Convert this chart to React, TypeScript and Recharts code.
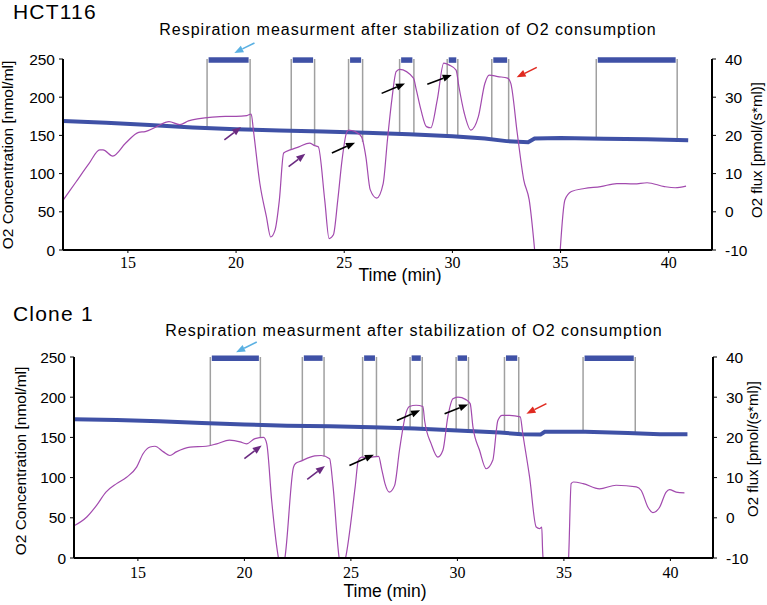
import React from "react";
import { LineChart, Line, XAxis, YAxis, ReferenceLine } from "recharts";

const TIME_TICKS = [15, 20, 25, 30, 35, 40];
const CONC_TICKS = [0, 50, 100, 150, 200, 250];
const FLUX_TICKS = [-10, 0, 10, 20, 30, 40];

type Pt = [number, number | null];
type Arrow = { from: [number, number]; to: [number, number]; color: string };
type Anchor = "conc" | "flux";

// HCT116: O2 concentration [nmol/ml] (blue, left axis)
const hctConc: Pt[] = [
  [12, 169], [14, 166.5], [16, 163.5], [18, 160.5], [20, 158], [22, 156.5], [24, 155],
  [26, 153.5], [28, 151.5], [30, 149], [31.5, 146], [32.5, 142.5], [33.5, 141],
  [33.8, 146], [35, 146.5], [37, 145.5], [39, 145], [40.9, 143.5],
];

// HCT116: O2 flux [pmol/(s*ml)] (purple, right axis)
const hctFlux: Pt[] = [
  [12, 3], [12.6, 7.8], [13.2, 12.6], [13.7, 16.2], [13.85, 16.2], [14.3, 14.6], [14.9, 18],
  [15.5, 20.8], [15.8, 21], [16.3, 22.2], [16.9, 23.6], [17.4, 22.8], [17.8, 23.8], [18.3, 24.4],
  [18.9, 24.8], [19.5, 25], [20, 25], [20.5, 25.2], [20.7, 25.6], [20.8, 21.4], [21.1, 7.4],
  [21.4, -1.2], [21.6, -6.6], [21.8, -4.8], [22, 3], [22.2, 15.4], [22.5, 16.2], [22.9, 17],
  [23.4, 18], [23.6, 17.4], [23.8, 17], [24.1, 3], [24.3, -7], [24.5, -6], [24.7, 3], [24.9, 13.6],
  [25.1, 20.6], [25.2, 21.4], [25.5, 21], [25.8, 19.6], [26, 14.4], [26.2, 5.8], [26.5, 3.6],
  [26.8, 7.4], [27, 19], [27.2, 29.3], [27.4, 36.7], [27.56, 37.3], [28.2, 35], [28.33, 32],
  [28.55, 26.6], [28.8, 22.3], [29, 22], [29.3, 29.3], [29.6, 38.9], [29.86, 38.4], [30.17, 37.1],
  [30.3, 32.8], [30.55, 25.8], [30.85, 21.4], [31.2, 24.9], [31.5, 33.6], [31.7, 35.8],
  [32.1, 35.4], [32.55, 35], [32.7, 33.6], [33, 20.5], [33.3, 8.3], [33.55, 3.1], [33.85, -13],
  [34.4, null], [34.95, -13], [35.2, 3.1], [35.5, 5.3], [36.1, 6.1], [36.85, 6.6], [37.6, 7.4],
  [38.4, 7.3], [39, 7.6], [39.8, 6.6], [40.3, 6.3], [40.8, 6.7],
];

// HCT116: measurement windows [start, end] (min) and which trace their marker lines drop to
const hctWindows: [number, number][] = [
  [18.66, 20.65], [22.55, 23.63], [25.2, 25.85], [27.56, 28.22], [29.76, 30.25], [31.82, 32.6], [36.65, 40.39],
];
const hctAnchors: Anchor[] = ["conc", "flux", "flux", "conc", "conc", "conc", "conc"];

// Clone 1: O2 concentration
const cloneConc: Pt[] = [
  [12, 172.5], [14, 171.5], [16, 170], [18, 168], [20, 166], [22, 164.5], [24, 164], [26, 162.5],
  [28, 161], [30, 158.5], [32, 156], [33, 154], [33.9, 153.5], [34.1, 157], [36, 157], [38, 155.5],
  [39.5, 154], [40.8, 154],
];

// Clone 1: O2 flux
const cloneFlux: Pt[] = [
  [12, -2], [12.6, 0.2], [13.06, 3.1], [13.5, 6.4], [14, 8.5], [14.47, 10.1], [14.94, 12.6],
  [15.25, 16], [15.57, 17.6], [15.8, 17.8], [16.2, 16.4], [16.5, 15.5], [16.8, 16.4], [17.45, 17.6],
  [18.2, 17.8], [18.7, 18.4], [19.3, 19.3], [19.8, 18.9], [20.1, 18.4], [20.5, 19.7], [20.9, 20],
  [21.05, 18.4], [21.28, 4.3], [21.6, -10], [21.75, -13], [21.9, -10], [22.3, 12.5], [22.4, 13.5],
  [22.65, 14.1], [23.3, 15.4], [23.6, 15.5], [24, 14.7], [24.15, 8.5], [24.45, -10], [24.6, -13],
  [24.75, -10], [25.2, 7.7], [25.35, 14.3], [25.5, 15.1], [25.8, 15], [26.3, 15.3], [26.45, 12],
  [26.6, 8.5], [26.8, 6.4], [27.05, 8], [27.28, 16.8], [27.6, 26.3], [27.75, 27.7], [28.06, 28],
  [28.38, 27.7], [28.46, 24.2], [28.77, 18.4], [29.08, 15.1], [29.32, 16.8], [29.55, 25.1],
  [29.79, 29.6], [30.02, 30], [30.4, 29.4], [30.6, 28.4], [30.73, 22.6], [31.04, 16.8],
  [31.35, 12.2], [31.66, 14.3], [31.9, 24.2], [32.1, 25.5], [32.45, 25.5], [32.95, 25.1],
  [33.07, 20.9], [33.39, 10.1], [33.7, -2.3], [33.86, -2.7], [33.96, -2.3], [34, -8.1], [34.1, -14],
  [34.6, null], [35.15, -14], [35.22, -10], [35.34, 8.5], [35.45, 8.9], [35.9, 8.5], [36.67, 7.2],
  [37.45, 8.1], [38.4, 7.7], [38.63, 6.8], [38.94, 2.7], [39.18, 1.3], [39.5, 2.7], [39.8, 6.4],
  [39.96, 7], [40.27, 6.4], [40.66, 6.2],
];

const cloneWindows: [number, number][] = [
  [18.4, 20.75], [22.72, 23.74], [25.55, 26.2], [27.78, 28.35], [29.94, 30.52], [32.21, 32.88], [35.9, 38.35],
];
const cloneAnchors: Anchor[] = ["flux", "flux", "flux", "conc", "conc", "conc", "conc"];

const BLUE = "#3f51a6";
const PURPLE = "#a24aae";
const GREY = "#a0a0a0";
const ARROW_PURPLE = "#6a2a80";
const ARROW_BLUE = "#5ab0e2";
const ARROW_RED = "#e02a20";
const BLACK = "#000";

// arrow annotations, in (min, nmol/ml)
const hctArrows: Arrow[] = [
  { from: [20.85, 271], to: [19.92, 258], color: ARROW_BLUE },
  { from: [19.46, 144], to: [20.23, 161], color: ARROW_PURPLE },
  { from: [22.43, 109], to: [23.2, 126], color: ARROW_PURPLE },
  { from: [24.43, 127], to: [25.5, 140.5], color: BLACK },
  { from: [26.73, 205], to: [27.81, 218], color: BLACK },
  { from: [28.84, 217], to: [29.97, 229], color: BLACK },
  { from: [33.9, 239], to: [32.97, 226], color: ARROW_RED },
];

const cloneArrows: Arrow[] = [
  { from: [20.58, 268.7], to: [19.61, 256], color: ARROW_BLUE },
  { from: [20.0, 123.5], to: [20.81, 140], color: ARROW_PURPLE },
  { from: [22.95, 97.8], to: [23.78, 114.4], color: ARROW_PURPLE },
  { from: [24.93, 115], to: [26.08, 128.5], color: BLACK },
  { from: [27.16, 171], to: [28.25, 183.7], color: BLACK },
  { from: [29.4, 179.5], to: [30.5, 191], color: BLACK },
  { from: [34.18, 192], to: [33.24, 179.5], color: ARROW_RED },
];

const SANS = '"Liberation Sans", Arial, sans-serif';
const SERIF = '"Liberation Serif", "Times New Roman", serif';
const W = 767;

function valueAt(series: Pt[], x: number): number {
  for (let i = 0; i < series.length - 1; i++) {
    const [t0, a] = series[i];
    const [t1, b] = series[i + 1];
    if (x >= t0 && x <= t1) {
      if (a == null || b == null) return (a ?? b ?? 0) as number;
      return a + ((b - a) * (x - t0)) / (t1 - t0);
    }
  }
  return (series[series.length - 1][1] ?? 0) as number;
}

const toRows = (s: Pt[]) => s.map(([t, v]) => ({ t, v }));

function ArrowShape(p: any) {
  const { x1, y1, x2, y2, stroke } = p;
  const a = Math.atan2(y2 - y1, x2 - x1);
  const L = 9;
  const hw = 3.6;
  const bx = x2 - L * Math.cos(a);
  const by = y2 - L * Math.sin(a);
  const pts = `${x2},${y2} ${bx + hw * Math.sin(a)},${by - hw * Math.cos(a)} ${bx - hw * Math.sin(a)},${by + hw * Math.cos(a)}`;
  return (
    <g>
      <line x1={x1} y1={y1} x2={bx} y2={by} stroke={stroke} strokeWidth={1.6} />
      <polygon points={pts} fill={stroke} />
    </g>
  );
}

type Box = {
  top: number;
  height: number;
  plotLeft: number;
  plotRight: number;
  plotTop: number;
  plotBottom: number;
  xTickGap: number;
  heading: [number, number];
  subtitle: [number, number];
  timeLabel: [number, number];
  leftLabel: [number, number];
  rightLabel: [number, number];
};

function Panel({
  name,
  conc,
  flux,
  windows,
  anchors,
  arrows,
  box,
}: {
  name: string;
  conc: Pt[];
  flux: Pt[];
  windows: [number, number][];
  anchors: Anchor[];
  arrows: Arrow[];
  box: Box;
}) {
  // marker lines drop from the top to either the concentration or the flux trace
  const dropTo = (x: number, anchor: Anchor) =>
    anchor === "conc" ? valueAt(conc, x) : (valueAt(flux, x) + 10) * 5;
  return (
    <div style={{ position: "absolute", left: 0, top: box.top, width: W, height: box.height }}>
      <LineChart
        width={W}
        height={box.height}
        margin={{ top: box.plotTop, right: 0, bottom: box.height - box.plotBottom - 30, left: 0 }}
      >
        <XAxis
          type="number"
          dataKey="t"
          domain={[12, 42]}
          ticks={TIME_TICKS}
          allowDataOverflow
          height={30}
          interval={0}
          axisLine={{ stroke: "#000", strokeWidth: 2 }}
          tickLine={{ stroke: "#000" }}
          tickSize={3}
          tickMargin={box.xTickGap}
          tick={{ fill: "#000", fontSize: 16, fontFamily: SERIF }}
        />
        <YAxis
          yAxisId="l"
          orientation="left"
          width={box.plotLeft}
          domain={[0, 250]}
          ticks={CONC_TICKS}
          interval={0}
          allowDataOverflow
          axisLine={{ stroke: "#000", strokeWidth: 2 }}
          tickLine={{ stroke: "#000" }}
          tickSize={4}
          tickMargin={4}
          tick={{ fill: "#000", fontSize: 15.5, fontFamily: SANS }}
        />
        <YAxis
          yAxisId="r"
          orientation="right"
          width={W - box.plotRight}
          domain={[-10, 40]}
          ticks={FLUX_TICKS}
          interval={0}
          allowDataOverflow
          axisLine={{ stroke: "#000", strokeWidth: 2 }}
          tickLine={{ stroke: "#000" }}
          tickSize={4}
          tickMargin={9}
          tick={{ fill: "#000", fontSize: 15.5, fontFamily: SANS }}
        />
        {windows.flatMap(([s, e], i) =>
          [s, e].map((x, j) => (
            <ReferenceLine
              key={`g${i}-${j}`}
              yAxisId="l"
              segment={[{ x, y: 250 }, { x, y: dropTo(x, anchors[i]) }]}
              stroke={GREY}
              strokeWidth={1.5}
            />
          ))
        )}
        <Line
          yAxisId="l"
          data={toRows(conc)}
          dataKey="v"
          type="linear"
          stroke={BLUE}
          strokeWidth={4}
          dot={false}
          isAnimationActive={false}
        />
        <Line
          yAxisId="r"
          data={toRows(flux)}
          dataKey="v"
          type="monotone"
          stroke={PURPLE}
          strokeWidth={1.2}
          dot={false}
          connectNulls={false}
          isAnimationActive={false}
        />
        {windows.map(([s, e], i) => (
          <ReferenceLine
            key={`bar${i}`}
            yAxisId="l"
            segment={[{ x: s + 0.07, y: 248.6 }, { x: e - 0.07, y: 248.6 }]}
            stroke={BLUE}
            strokeWidth={5.5}
          />
        ))}
        {arrows.map((a, i) => (
          <ReferenceLine
            key={`ar${i}`}
            yAxisId="l"
            segment={[{ x: a.from[0], y: a.from[1] }, { x: a.to[0], y: a.to[1] }]}
            stroke={a.color}
            ifOverflow="visible"
            shape={ArrowShape}
          />
        ))}
      </LineChart>
      <svg
        width={W}
        height={box.height}
        style={{ position: "absolute", left: 0, top: 0, pointerEvents: "none" }}
        fontFamily={SANS}
        fill="#000"
      >
        <text x={box.heading[0]} y={box.heading[1]} fontSize={21} letterSpacing={1.2}>
          {name}
        </text>
        <text x={box.subtitle[0]} y={box.subtitle[1]} fontSize={16} letterSpacing={1} textAnchor="middle">
          Respiration measurment after stabilization of O2 consumption
        </text>
        <text x={box.timeLabel[0]} y={box.timeLabel[1]} fontSize={17.5} textAnchor="middle">
          Time (min)
        </text>
        <text
          x={box.leftLabel[0]}
          y={box.leftLabel[1]}
          fontSize={15.5}
          textAnchor="middle"
          transform={`rotate(-90, ${box.leftLabel[0]}, ${box.leftLabel[1]})`}
        >
          O2 Concentration [nmol/ml]
        </text>
        <text
          x={box.rightLabel[0]}
          y={box.rightLabel[1]}
          fontSize={15}
          textAnchor="middle"
          transform={`rotate(-90, ${box.rightLabel[0]}, ${box.rightLabel[1]})`}
        >
          O2 flux [pmol/(s*ml)]
        </text>
      </svg>
    </div>
  );
}

const topBox: Box = {
  top: 0,
  height: 300,
  plotLeft: 63,
  plotRight: 712,
  plotTop: 59,
  plotBottom: 250,
  xTickGap: 4,
  heading: [13, 19],
  subtitle: [408, 35],
  timeLabel: [400, 281],
  leftLabel: [13, 155],
  rightLabel: [762, 150],
};

const bottomBox: Box = {
  top: 300,
  height: 305,
  plotLeft: 74,
  plotRight: 713,
  plotTop: 57,
  plotBottom: 258,
  xTickGap: 6,
  heading: [13, 21],
  subtitle: [414, 36],
  timeLabel: [385, 297],
  leftLabel: [25.5, 161],
  rightLabel: [758, 149],
};

export default function App() {
  return (
    <div style={{ position: "absolute", left: 0, top: 0, width: W, height: 605, background: "#fff" }}>
      <Panel
        name="HCT116"
        conc={hctConc}
        flux={hctFlux}
        windows={hctWindows}
        anchors={hctAnchors}
        arrows={hctArrows}
        box={topBox}
      />
      <Panel
        name="Clone 1"
        conc={cloneConc}
        flux={cloneFlux}
        windows={cloneWindows}
        anchors={cloneAnchors}
        arrows={cloneArrows}
        box={bottomBox}
      />
    </div>
  );
}
